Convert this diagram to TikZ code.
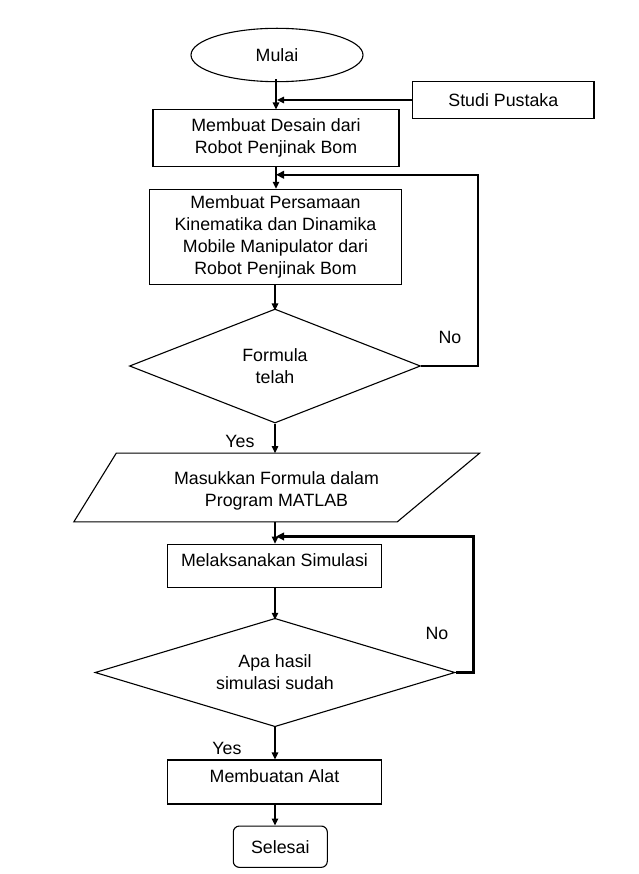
\documentclass[tikz,border=0pt]{standalone}
\usepackage{fontspec}
\setmainfont{Liberation Sans}
\usetikzlibrary{shapes.geometric,arrows.meta,calc}
\begin{document}
\begin{tikzpicture}[x=1pt,y=-1pt,
  font=\fontsize{17.8}{21.8}\selectfont,
  every node/.style={inner sep=0pt, align=center},
  boxstyle/.style={draw, line width=1.1pt, rectangle},
  dia/.style={draw, line width=1.1pt, diamond},
  flow/.style={line width=1.3pt, -{Triangle[length=7pt,width=6.5pt]}},
  loopline/.style={line width=2.2pt, -{Triangle[length=8pt,width=7.5pt]}},
  lowtext/.style={text height=6pt, text depth=6pt}
]
\useasboundingbox (0,0) rectangle (638,874);

\node[draw, line width=1.1pt, ellipse, minimum width=172pt, minimum height=53.4pt] (m) at (277,55) {Mulai};
\node[boxstyle, minimum width=181.3pt, minimum height=36.6pt] (sp) at (503.3,100) {Studi Pustaka};
\node[boxstyle, minimum width=246pt, minimum height=56.7pt] (b1) at (276,138.3) {Membuat Desain dari\\Robot Penjinak Bom};
\node[boxstyle, minimum width=252.4pt, minimum height=94.7pt] (b2) at (275.5,236.7) {Membuat Persamaan\\Kinematika dan Dinamika\\Mobile Manipulator dari\\Robot Penjinak Bom};
\node[dia, aspect=2.55, minimum width=291pt, minimum height=114pt] (d1) at (275,366) {Formula\\telah};

\node[minimum width=240pt, minimum height=68.4pt] (p) at (276.5,487.5) {};
\draw[line width=1.1pt] ($(p.north west)+(-40,0)$) -- ($(p.north east)+(83,0)$) -- ($(p.south east)+(0.5,0)$) -- ($(p.south west)+(-82.5,0)$) -- cycle;
\node (pt) at (276.5,491) {Masukkan Formula dalam\\Program MATLAB};

\node[boxstyle, lowtext, minimum width=214.4pt, minimum height=43.7pt] (b3) at (274.5,566) {Melaksanakan Simulasi};
\node[dia, aspect=3.3, minimum width=360pt, minimum height=108.4pt] (d2) at (275,672.5) {Apa hasil\\simulasi sudah};
\node[boxstyle, lowtext, minimum width=214.4pt, minimum height=44pt] (b4) at (274.5,782) {Membuatan Alat};
\node[draw, line width=1.1pt, rounded corners=6pt, minimum width=94pt, minimum height=41.3pt] (s) at (280.3,846.7) {Selesai};

\node (no1) at (450,337) {No};
\node (yes1) at (240,441) {Yes};
\node (no2) at (437,633) {No};
\node (yes2) at (227,748) {Yes};

\coordinate (c0) at (b1.north |- sp.west);
\coordinate (c1) at ($(b1.south)!0.35!(b2.north)$);
\coordinate (c2) at ($(p.south)!0.67!(b3.north)$);

\draw[flow] ([yshift=3pt]m.south -| b1.north) -- (b1.north);
\draw[flow] (sp.west) -- ([xshift=1pt]c0);
\draw[flow] (b1.south) -- (b1.south |- b2.north);
\draw[flow] (b2.south -| d1.north) -- ([yshift=-2pt]d1.north);
\draw[flow] (d1.south) -- (d1.south |- p.north);
\draw[flow] (d1.south |- p.south) -- (d1.south |- b3.north);
\draw[flow] (b3.south -| d2.north) -- ([yshift=-2pt]d2.north);
\draw[flow] (d2.south) -- (d2.south |- b4.north);
\draw[flow] (b4.south -| d2.south) -- (d2.south |- s.north);

\draw[loopline] (d1.east) -- ++(56.7,0) |- ([xshift=1pt]c1 -| d1.north);
\draw[loopline] (d2.east) -- ++(18,0) |- ([xshift=1pt]c2 -| d2.north);
\end{tikzpicture}
\end{document}
